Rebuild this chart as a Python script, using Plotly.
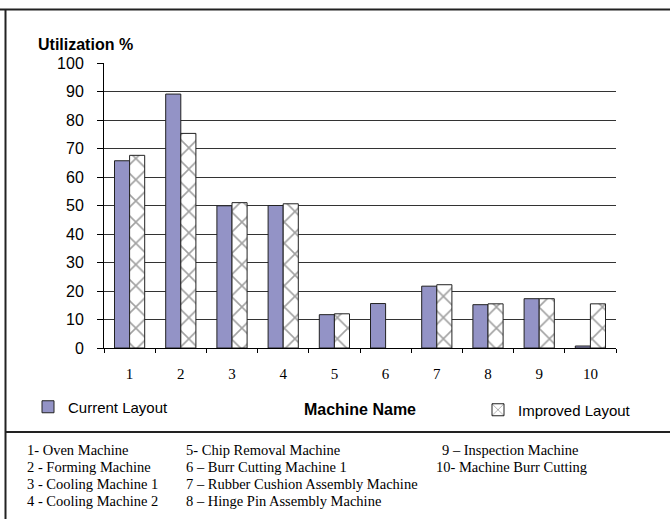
import plotly.graph_objects as go

# ---------------- data ----------------
machines = ["1", "2", "3", "4", "5", "6", "7", "8", "9", "10"]
current_layout = [65.7, 89.1, 49.9, 50.0, 11.7, 15.6, 21.7, 15.2, 17.3, 0.7]
improved_layout = [67.6, 75.3, 51.0, 50.6, 12.0, None, 22.2, 15.5, 17.3, 15.5]
y_ticks = [0, 10, 20, 30, 40, 50, 60, 70, 80, 90, 100]

key_col1 = ["1- Oven Machine", "2 - Forming Machine", "3 - Cooling Machine 1", "4 - Cooling Machine 2"]
key_col2 = ["5- Chip Removal Machine", "6 \u2013 Burr Cutting Machine 1",
            "7 \u2013 Rubber Cushion Assembly Machine", "8 \u2013 Hinge Pin Assembly Machine"]
key_col3 = ["9 \u2013 Inspection Machine", "10- Machine Burr Cutting"]

# ---------------- layout geometry (pixels) ----------------
W, H = 670, 519
PL, PR, PT, PB = 104, 616, 63, 348

def px2x(px):
    return (px - PL) / (PR - PL)

def px2y(py):
    return (PB - py) / (PB - PT)

SANS = "Liberation Sans, Arial, sans-serif"
SERIF = "Liberation Serif, Times New Roman, serif"

fig = go.Figure()
fig.add_trace(go.Bar(
    x=machines, y=current_layout, name="Current Layout",
    marker=dict(color="#9393C6", line=dict(color="#222222", width=1)),
    legend="legend",
))
fig.add_trace(go.Bar(
    x=machines, y=improved_layout, name="Improved Layout",
    marker=dict(color="white", line=dict(color="#222222", width=1),
                pattern=dict(shape="x", size=15, solidity=0.2,
                             fgcolor="#444444", bgcolor="white")),
    legend="legend2",
))

annotations = [
    dict(text="<b>Utilization %</b>", x=px2x(36), y=px2y(44), xref="paper", yref="paper",
         xanchor="left", yanchor="middle", showarrow=False,
         font=dict(family=SANS, size=16, color="black")),
]
line_y = [450, 467, 484, 501]
for col_x, col in ((25, key_col1), (184, key_col2)):
    for i, t in enumerate(col):
        annotations.append(dict(text=t, x=px2x(col_x), y=px2y(line_y[i]), xref="paper", yref="paper",
                                xanchor="left", yanchor="middle", showarrow=False,
                                font=dict(family=SERIF, size=14.5, color="black")))
for i, (t, cx) in enumerate(zip(key_col3, (440, 434))):
    annotations.append(dict(text=t, x=px2x(cx), y=px2y(line_y[i]), xref="paper", yref="paper",
                            xanchor="left", yanchor="middle", showarrow=False,
                            font=dict(family=SERIF, size=14.5, color="black")))

shapes = [
    dict(type="line", xref="paper", yref="paper", x0=px2x(0), x1=px2x(W), y0=px2y(9.5), y1=px2y(9.5),
         line=dict(color="#222222", width=2)),
    dict(type="line", xref="paper", yref="paper", x0=px2x(5.5), x1=px2x(5.5), y0=px2y(9), y1=px2y(W),
         line=dict(color="#222222", width=2)),
    dict(type="line", xref="paper", yref="paper", x0=px2x(5), x1=px2x(W), y0=px2y(432), y1=px2y(432),
         line=dict(color="#222222", width=2)),
]

fig.update_layout(
    width=W, height=H,
    margin=dict(l=PL, r=W - PR, t=PT, b=H - PB, pad=0),
    paper_bgcolor="white", plot_bgcolor="white",
    barmode="group", bargap=0.41, bargroupgap=0,
    font=dict(family=SANS, size=15, color="black"),
    xaxis=dict(
        type="category", showline=True, linecolor="black", linewidth=1,
        ticks="outside", ticklen=4, tickcolor="black", tickson="boundaries",
        showgrid=False, tickfont=dict(family=SERIF, size=15, color="black"),
        ticklabelstandoff=12,
        title=dict(text="<b>Machine Name</b>", font=dict(family=SANS, size=16, color="black"),
                   standoff=22),
    ),
    yaxis=dict(
        range=[0, 100], tickvals=y_ticks, showline=True, linecolor="black", linewidth=1,
        ticks="outside", ticklen=6, tickcolor="black", showgrid=True, gridcolor="#333333",
        gridwidth=1, zeroline=False, tickfont=dict(family=SANS, size=16, color="black"),
        ticklabelstandoff=10,
    ),
    legend=dict(x=px2x(28), y=px2y(407), xanchor="left", yanchor="middle", bgcolor="rgba(0,0,0,0)",
                font=dict(family=SANS, size=15, color="black"), borderwidth=0),
    legend2=dict(x=px2x(478), y=px2y(410), xanchor="left", yanchor="middle", bgcolor="rgba(0,0,0,0)",
                 font=dict(family=SANS, size=15, color="black"), borderwidth=0),
    showlegend=True,
    annotations=annotations,
    shapes=shapes,
)

fig.write_html("out.html")
